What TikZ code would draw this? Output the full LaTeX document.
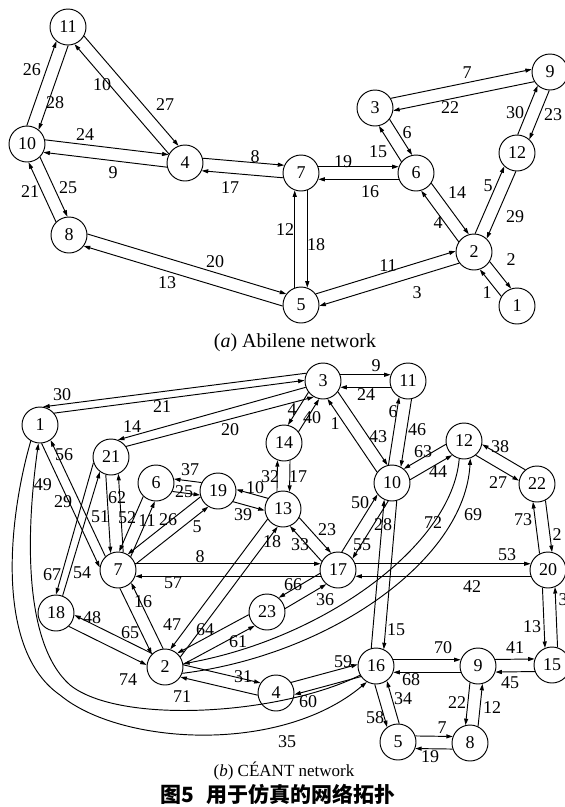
\documentclass[tikz,border=0pt]{standalone}
\usepackage{fontspec}
\setmainfont{Liberation Serif}
\newfontfamily\cjk{Noto Sans CJK SC}
\usetikzlibrary{calc,arrows.meta}
\tikzset{
 nd/.style={circle,draw,line width=0.95pt,minimum size=36pt,inner sep=0pt,font=\fontsize{18}{18}\selectfont},
 lbl/.style={inner sep=0pt,font=\fontsize{18}{18}\selectfont},
 captxt/.style={inner sep=0pt,font=\fontsize{17}{17}\selectfont},
 arr/.style={line width=0.95pt,-{Triangle[length=6.5pt,width=4pt]}},
}
\newcommand{\rrad}{18.4pt}
\newcommand{\deL}[3][20]{\draw[arr] ($(#2)!\rrad!#1:(#3)$) -- ($(#3)!\rrad!-#1:(#2)$);}
\newcommand{\deR}[3][20]{\draw[arr] ($(#2)!\rrad!-#1:(#3)$) -- ($(#3)!\rrad!#1:(#2)$);}
\begin{document}
\begin{tikzpicture}[x=1pt,y=-1pt]
\useasboundingbox (0,0) rectangle (565,807);
% ---------- (a) Abilene ----------
\node[nd] (a11) at (68,27) {11};
\node[nd] (a10) at (27,144) {10};
\node[nd] (a4) at (185,163) {4};
\node[nd] (a7) at (301,173) {7};
\node[nd] (a6) at (416,173) {6};
\node[nd] (a3) at (375,108) {3};
\node[nd] (a9) at (550,72) {9};
\node[nd] (a12) at (517,153) {12};
\node[nd] (a2) at (474,252) {2};
\node[nd] (a1) at (517,306) {1};
\node[nd] (a5) at (301,305) {5};
\node[nd] (a8) at (69,235) {8};

\deL{a10}{a11} \deL{a11}{a10}
\deL{a4}{a11} \deL{a11}{a4}
\deL{a10}{a4} \deL{a4}{a10}
\deL{a4}{a7} \deL{a7}{a4}
\deL{a8}{a10} \deL{a10}{a8}
\deL{a8}{a5} \deL{a5}{a8}
\deL{a5}{a7} \deL{a7}{a5}
\deL{a7}{a6} \deL{a6}{a7}
\deL{a5}{a2} \deL{a2}{a5}
\deL{a6}{a2} \deL{a2}{a6}
\deL{a2}{a12} \deL{a12}{a2}
\deL{a2}{a1} \deL{a1}{a2}
\deL{a3}{a6} \deL{a6}{a3}
\deL{a3}{a9} \deL{a9}{a3}
\deL{a12}{a9} \deL{a9}{a12}

\node[lbl] (la26) at (32,70) {26};
\node[lbl] (la28) at (55,103) {28};
\node[lbl] (la10) at (102,85) {10};
\node[lbl] (la27) at (165,105) {27};
\node[lbl] (la24) at (85,135) {24};
\node[lbl] (la9) at (113,173) {9};
\node[lbl] (la8) at (255,157) {8};
\node[lbl] (la17) at (230,188) {17};
\node[lbl] (la21) at (30,192) {21};
\node[lbl] (la25) at (68,188) {25};
\node[lbl] (la20) at (215,262) {20};
\node[lbl] (la13) at (167,283) {13};
\node[lbl] (la12) at (285,230) {12};
\node[lbl] (la18) at (316,245) {18};
\node[lbl] (la19) at (343,162) {19};
\node[lbl] (la16) at (370,192) {16};
\node[lbl] (la11) at (388,266) {11};
\node[lbl] (la3) at (417,293) {3};
\node[lbl] (la14) at (457,193) {14};
\node[lbl] (la4) at (438,223) {4};
\node[lbl] (la5) at (488,186) {5};
\node[lbl] (la29) at (515,217) {29};
\node[lbl] (la2) at (511,260) {2};
\node[lbl] (la1) at (487,293) {1};
\node[lbl] (la6) at (407,133) {6};
\node[lbl] (la15) at (378,152) {15};
\node[lbl] (la7) at (467,73) {7};
\node[lbl] (la22) at (450,108) {22};
\node[lbl] (la30) at (515,113) {30};
\node[lbl] (la23) at (553,115) {23};

\node[inner sep=0pt,font=\fontsize{20}{20}\selectfont] (capa) at (295,343) {(\textit{a}) Abilene network};

% ---------- (b) GEANT ----------
\node[nd] (b3) at (323,381) {3};
\node[nd] (b11) at (408,381) {11};
\node[nd] (b1) at (40,425) {1};
\node[nd] (b21) at (111,457) {21};
\node[nd] (b14) at (284,443) {14};
\node[nd] (b6) at (156,483) {6};
\node[nd] (b19) at (218,491) {19};
\node[nd] (b13) at (283,509) {13};
\node[nd] (b10) at (392,483) {10};
\node[nd] (b12) at (464,441) {12};
\node[nd] (b22) at (537,484) {22};
\node[nd] (b7) at (118,570) {7};
\node[nd] (b17) at (338,570) {17};
\node[nd] (b20) at (548,570) {20};
\node[nd] (b18) at (56,613) {18};
\node[nd] (b23) at (267,612) {23};
\node[nd] (b2) at (165,667) {2};
\node[nd] (b4) at (276,693) {4};
\node[nd] (b16) at (376,666) {16};
\node[nd] (b9) at (478,666) {9};
\node[nd] (b15) at (552,665) {15};
\node[nd] (b5) at (398,742) {5};
\node[nd] (b8) at (470,743) {8};

\draw[arr] (b3.155) -- (b1.80);
\draw[arr] (b1.40) -- (b3.178);
\draw[arr] (b3.200) -- (b21.68);
\draw[arr] (b21.35) -- (b3.240);
\deR{b3}{b14} \deR{b14}{b3}
\deL{b10}{b3} \deL{b3}{b10}
\deL{b10}{b11} \deL{b11}{b10}
\deL{b11}{b3} \deL{b3}{b11}
\deR{b12}{b10} \deR{b10}{b12}
\deR{b22}{b12} \deR{b12}{b22}
\deL{b20}{b22} \deL{b22}{b20}
\deL{b17}{b10} \deL{b10}{b17}
\deL{b16}{b10} \deL{b10}{b16}
\draw[arr] (b7.133) -- (b1.305);
\draw[arr] (b1.275) -- (b7.172);
\deR{b19}{b6} \deR{b6}{b19}
\deR{b13}{b19} \deR{b19}{b13}
\deL{b13}{b14} \deL{b14}{b13}
\deR{b7}{b21} \deR{b21}{b7}
\deR{b6}{b7} \deR{b7}{b6}
\deR{b19}{b7} \deR{b7}{b19}
\deL{b7}{b17} \deL{b17}{b7}
\deR{b2}{b13} \deR{b13}{b2}
\deL{b13}{b17} \deL{b17}{b13}
\deL{b17}{b20} \deL{b20}{b17}
\deR{b17}{b23} \deR{b23}{b17}
\deR{b23}{b2} \deR{b2}{b23}
\deR{b7}{b2} \deR{b2}{b7}
\deR{b2}{b18} \deR{b18}{b2}
\draw[arr] (b21.198) -- (b18.90);
\draw[arr] (b18.69) -- (b21.233);
\deL{b2}{b4} \deL{b4}{b2}
\deL{b4}{b16} \deL{b16}{b4}
\deL{b16}{b9} \deL{b9}{b16}
\deL{b9}{b15} \deL{b15}{b9}
\deR{b20}{b15} \deR{b15}{b20}
\deR{b9}{b8} \deR{b8}{b9}
\deR{b16}{b5} \deR{b5}{b16}
\deL{b5}{b8} \deL{b8}{b5}
% curves
\draw[arr] (b12.255) .. controls (452,545) and (325,638) .. (b2.10);
\draw[arr] (b2.-20) .. controls (330,655) and (465,560) .. (b12.290);
\draw[arr] (b16.210) .. controls (280,715) and (120,725) .. (70,685) .. controls (25,645) and (25,540) .. (b1.265);
\draw[arr] (b1.240) .. controls (8,520) and (-5,650) .. (60,695) .. controls (120,745) and (280,755) .. (b16.240);

\node[lbl] (lb30) at (62,395) {30};
\node[lbl] (lb21) at (162,407) {21};
\node[lbl] (lb14) at (132,427) {14};
\node[lbl] (lb20) at (230,430) {20};
\node[lbl] (lb4) at (292,410) {4};
\node[lbl] (lb40) at (312,418) {40};
\node[lbl] (lb1) at (335,424) {1};
\node[lbl] (lb43) at (378,437) {43};
\node[lbl] (lb6) at (393,412) {6};
\node[lbl] (lb46) at (417,430) {46};
\node[lbl] (lb24) at (366,395) {24};
\node[lbl] (lb9) at (376,366) {9};
\node[lbl] (lb63) at (423,452) {63};
\node[lbl] (lb44) at (438,472) {44};
\node[lbl] (lb38) at (500,447) {38};
\node[lbl] (lb27) at (498,483) {27};
\node[lbl] (lb73) at (523,520) {73};
\node[lbl] (lb2) at (557,535) {2};
\node[lbl] (lb72) at (433,523) {72};
\node[lbl] (lb69) at (473,515) {69};
\node[lbl] (lb50) at (360,503) {50};
\node[lbl] (lb28) at (383,525) {28};
\node[lbl] (lb56) at (64,455) {56};
\node[lbl] (lb29) at (63,502) {29};
\node[lbl] (lb49) at (43,485) {49};
\node[lbl] (lb37) at (190,470) {37};
\node[lbl] (lb25) at (184,492) {25};
\node[lbl] (lb10) at (255,488) {10};
\node[lbl] (lb39) at (243,515) {39};
\node[lbl] (lb32) at (270,477) {32};
\node[lbl] (lb17) at (298,477) {17};
\node[lbl] (lb62) at (117,498) {62};
\node[lbl] (lb51) at (100,517) {51};
\node[lbl] (lb52) at (127,518) {52};
\node[lbl] (lb11) at (147,521) {11};
\node[lbl] (lb26) at (168,520) {26};
\node[lbl] (lb5) at (197,527) {5};
\node[lbl] (lb8) at (200,557) {8};
\node[lbl] (lb57) at (173,583) {57};
\node[lbl] (lb18) at (272,542) {18};
\node[lbl] (lb47) at (172,625) {47};
\node[lbl] (lb23) at (327,530) {23};
\node[lbl] (lb33) at (300,545) {33};
\node[lbl] (lb55) at (362,545) {55};
\node[lbl] (lb53) at (507,555) {53};
\node[lbl] (lb42) at (472,587) {42};
\node[lbl] (lb66) at (293,585) {66};
\node[lbl] (lb36) at (325,600) {36};
\node[lbl] (lb64) at (205,630) {64};
\node[lbl] (lb61) at (238,642) {61};
\node[lbl] (lb65) at (130,633) {65};
\node[lbl] (lb16) at (143,602) {16};
\node[lbl] (lb48) at (92,618) {48};
\node[lbl] (lb74) at (128,680) {74};
\node[lbl] (lb67) at (52,575) {67};
\node[lbl] (lb54) at (82,573) {54};
\node[lbl] (lb31) at (243,677) {31};
\node[lbl] (lb71) at (182,697) {71};
\node[lbl] (lb59) at (343,662) {59};
\node[lbl] (lb60) at (308,702) {60};
\node[lbl] (lb70) at (443,648) {70};
\node[lbl] (lb68) at (411,680) {68};
\node[lbl] (lb41) at (515,648) {41};
\node[lbl] (lb45) at (510,683) {45};
\node[lbl] (lb13) at (532,627) {13};
\node[lbl] (lb3) at (563,600) {3};
\node[lbl] (lb22) at (457,703) {22};
\node[lbl] (lb12) at (492,708) {12};
\node[lbl] (lb58) at (375,718) {58};
\node[lbl] (lb34) at (403,699) {34};
\node[lbl] (lb7) at (442,728) {7};
\node[lbl] (lb19) at (430,757) {19};
\node[lbl] (lb35) at (287,742) {35};
\node[lbl] (lb15) at (396,630) {15};

\node[captxt] (capb) at (284,771) {(\textit{b}) C\'EANT network};
\node[inner sep=0pt,font=\fontsize{21}{21}\cjk\bfseries] (capc) at (278,794) {图5\hspace{0.6em}用于仿真的网络拓扑};
\end{tikzpicture}
\end{document}
